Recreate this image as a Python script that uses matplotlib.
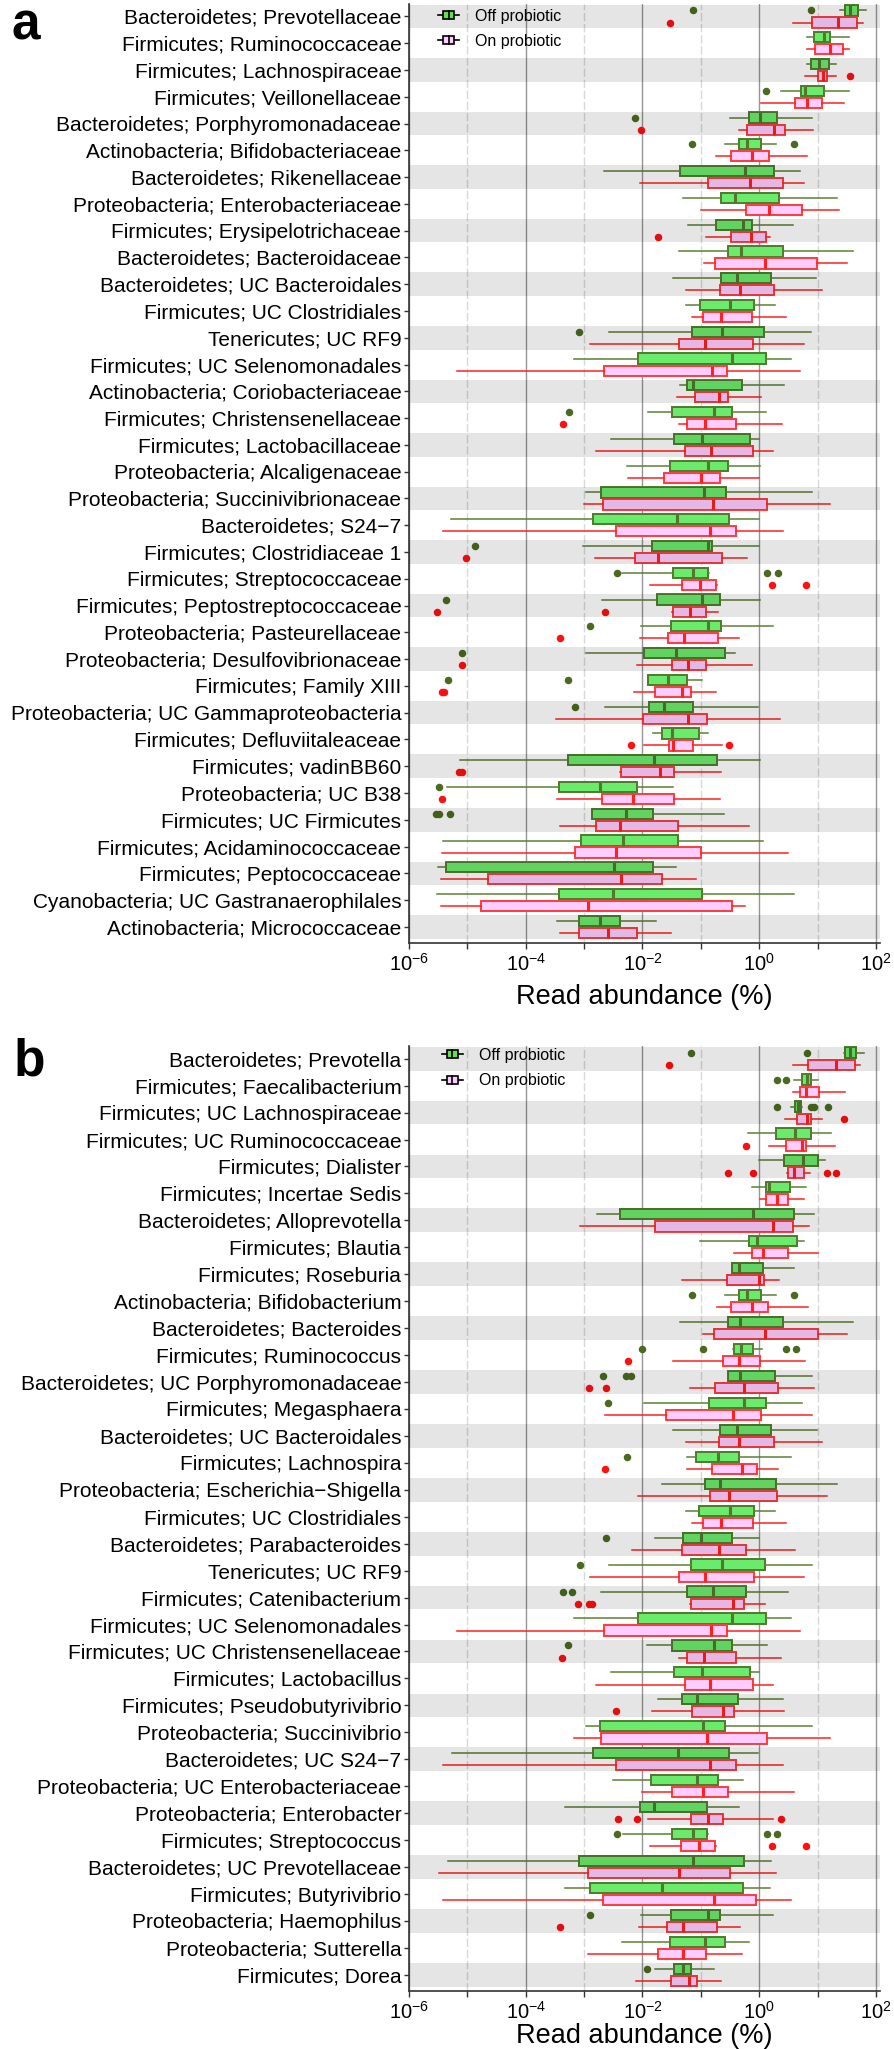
import matplotlib
matplotlib.use('Agg')
import matplotlib.pyplot as plt
import numpy as np
from matplotlib.patches import Rectangle, Patch
from matplotlib.lines import Line2D
from matplotlib.legend_handler import HandlerBase
from matplotlib.ticker import FixedLocator, FixedFormatter, NullFormatter

plt.rcParams['font.family'] = ['Liberation Sans', 'DejaVu Sans']

# box stats are log10(%): (whisker low, q1, median, q3, whisker high)
a_names = ['Bacteroidetes; Prevotellaceae', 'Firmicutes; Ruminococcaceae', 'Firmicutes; Lachnospiraceae',
           'Firmicutes; Veillonellaceae', 'Bacteroidetes; Porphyromonadaceae', 'Actinobacteria; Bifidobacteriaceae',
           'Bacteroidetes; Rikenellaceae', 'Proteobacteria; Enterobacteriaceae', 'Firmicutes; Erysipelotrichaceae',
           'Bacteroidetes; Bacteroidaceae', 'Bacteroidetes; UC Bacteroidales', 'Firmicutes; UC Clostridiales',
           'Tenericutes; UC RF9', 'Firmicutes; UC Selenomonadales', 'Actinobacteria; Coriobacteriaceae',
           'Firmicutes; Christensenellaceae', 'Firmicutes; Lactobacillaceae', 'Proteobacteria; Alcaligenaceae',
           'Proteobacteria; Succinivibrionaceae', 'Bacteroidetes; S24\u22127', 'Firmicutes; Clostridiaceae 1',
           'Firmicutes; Streptococcaceae', 'Firmicutes; Peptostreptococcaceae', 'Proteobacteria; Pasteurellaceae',
           'Proteobacteria; Desulfovibrionaceae', 'Firmicutes; Family XIII', 'Proteobacteria; UC Gammaproteobacteria',
           'Firmicutes; Defluviitaleaceae', 'Firmicutes; vadinBB60', 'Proteobacteria; UC B38',
           'Firmicutes; UC Firmicutes', 'Firmicutes; Acidaminococcaceae', 'Firmicutes; Peptococcaceae',
           'Cyanobacteria; UC Gastranaerophilales', 'Actinobacteria; Micrococcaceae']

a_off = [(1.38, 1.47, 1.55, 1.70, 1.83), (0.82, 0.93, 1.11, 1.21, 1.54), (0.81, 0.89, 1.03, 1.19, 1.31),
         (0.38, 0.72, 0.78, 1.11, 1.54), (-0.50, -0.17, 0.02, 0.31, 0.91), (-0.58, -0.35, -0.21, 0.03, 0.29),
         (-2.66, -1.35, -0.24, 0.25, 0.70), (-1.31, -0.66, -0.42, 0.34, 1.34), (-1.22, -0.74, -0.28, -0.13, 0.57),
         (-1.37, -0.54, -0.32, 0.40, 1.61), (-1.47, -0.66, -0.38, 0.20, 0.98), (-1.25, -1.01, -0.50, -0.09, 0.27),
         (-2.57, -1.16, -0.63, 0.09, 0.89), (-3.18, -2.07, -0.47, 0.11, 0.55), (-1.35, -1.23, -1.14, -0.30, 0.42),
         (-1.91, -1.50, -0.77, -0.46, 0.12), (-2.54, -1.46, -0.98, -0.15, -0.01), (-2.27, -1.53, -0.87, -0.53, 0.02),
         (-2.97, -2.71, -0.95, -0.57, 0.91), (-5.28, -2.85, -1.41, -0.51, -0.01), (-3.02, -1.83, -0.87, -0.81, -0.01),
         (-2.35, -1.48, -1.13, -0.87, -0.86), (-2.70, -1.75, -0.98, -0.67, 0.02), (-2.02, -1.51, -0.87, -0.66, 0.24),
         (-2.97, -1.97, -1.42, -0.59, -0.42), (-1.91, -1.91, -1.56, -1.24, -0.98), (-2.65, -1.88, -1.64, -1.13, -0.02),
         (-1.82, -1.67, -1.50, -1.03, -0.87), (-5.13, -3.28, -1.81, -0.73, 0.02), (-5.35, -3.43, -2.72, -2.10, -1.47),
         (-2.87, -2.87, -2.29, -1.82, -0.61), (-5.41, -3.05, -2.34, -1.40, 0.06), (-5.51, -5.37, -2.49, -1.82, -1.43),
         (-5.52, -3.43, -2.50, -0.98, 0.60), (-3.47, -3.09, -2.72, -2.38, -1.76)]
a_off_out = [[-1.14, 0.89], [], [], [0.11], [-2.13], [-1.15, 0.60], [], [], [], [], [], [], [-3.08], [], [],
             [-3.26], [], [], [], [], [-4.87], [-2.43, 0.14, 0.32], [-5.36], [-2.90], [-5.10], [-5.34, -3.27],
             [-3.16], [], [], [-5.48], [-5.54, -5.48, -5.30], [], [], [], []]

a_on = [(0.58, 0.91, 1.35, 1.68, 1.78), (0.82, 0.96, 1.21, 1.44, 1.54), (0.78, 1.00, 1.09, 1.16, 1.31),
        (0.03, 0.61, 0.82, 1.07, 1.46), (-0.35, -0.21, 0.26, 0.44, 0.92), (-0.74, -0.49, -0.13, 0.16, 0.82),
        (-2.05, -0.87, -0.15, 0.40, 0.76), (-0.99, -0.22, 0.16, 0.73, 1.37), (-0.91, -0.49, -0.14, 0.11, 0.19),
        (-0.95, -0.76, 0.10, 0.99, 1.50), (-1.25, -0.67, -0.33, 0.25, 1.07), (-1.16, -0.97, -0.65, -0.13, 0.46),
        (-2.90, -1.37, -0.93, -0.10, 0.76), (-5.17, -2.66, -0.81, -0.55, 0.69), (-1.41, -1.10, -0.69, -0.54, 0.03),
        (-1.37, -1.23, -0.93, -0.39, 0.39), (-2.79, -1.27, -0.83, -0.11, 0.23), (-2.24, -1.64, -1.00, -0.68, -0.01),
        (-3.01, -2.67, -0.79, 0.14, 1.21), (-5.42, -2.46, -0.84, -0.39, 0.40), (-2.81, -2.13, -1.74, -0.63, -0.21),
        (-1.87, -1.33, -1.01, -0.74, -0.73), (-1.50, -1.47, -1.19, -0.91, -0.70), (-2.05, -1.57, -1.29, -0.70, -0.34),
        (-2.09, -1.50, -1.22, -0.91, -0.13), (-2.15, -1.79, -1.33, -1.17, -0.74), (-3.49, -1.99, -1.22, -0.90, 0.36),
        (-1.97, -1.55, -1.47, -1.14, -0.63), (-2.38, -2.37, -1.70, -1.46, -0.65), (-3.47, -2.69, -2.17, -1.46, -0.67),
        (-3.41, -2.79, -2.39, -1.40, -0.18), (-5.43, -3.16, -2.46, -0.99, 0.49), (-5.45, -4.64, -2.37, -1.67, -1.09),
        (-5.45, -4.77, -2.93, -0.46, -0.25), (-3.41, -3.09, -2.59, -2.10, -1.51)]
a_on_out = [[-1.53], [], [1.55], [], [-2.03], [], [], [], [-1.73], [], [], [], [], [], [], [-3.37], [], [], [],
            [], [-5.03], [0.22, 0.80], [-5.52, -2.64], [-3.41], [-5.10], [-5.44, -5.40], [], [-2.19, -0.52],
            [-5.14, -5.09], [-5.44], [], [], [], [], []]

b_names = ['Bacteroidetes; Prevotella', 'Firmicutes; Faecalibacterium', 'Firmicutes; UC Lachnospiraceae',
           'Firmicutes; UC Ruminococcaceae', 'Firmicutes; Dialister', 'Firmicutes; Incertae Sedis',
           'Bacteroidetes; Alloprevotella', 'Firmicutes; Blautia', 'Firmicutes; Roseburia',
           'Actinobacteria; Bifidobacterium', 'Bacteroidetes; Bacteroides', 'Firmicutes; Ruminococcus',
           'Bacteroidetes; UC Porphyromonadaceae', 'Firmicutes; Megasphaera', 'Bacteroidetes; UC Bacteroidales',
           'Firmicutes; Lachnospira', 'Proteobacteria; Escherichia\u2212Shigella', 'Firmicutes; UC Clostridiales',
           'Bacteroidetes; Parabacteroides', 'Tenericutes; UC RF9', 'Firmicutes; Catenibacterium',
           'Firmicutes; UC Selenomonadales', 'Firmicutes; UC Christensenellaceae', 'Firmicutes; Lactobacillus',
           'Firmicutes; Pseudobutyrivibrio', 'Proteobacteria; Succinivibrio', 'Bacteroidetes; UC S24\u22127',
           'Proteobacteria; UC Enterobacteriaceae', 'Proteobacteria; Enterobacter', 'Firmicutes; Streptococcus',
           'Bacteroidetes; UC Prevotellaceae', 'Firmicutes; Butyrivibrio', 'Proteobacteria; Haemophilus',
           'Proteobacteria; Sutterella', 'Firmicutes; Dorea']

b_off = [(1.46, 1.47, 1.55, 1.65, 1.79), (0.60, 0.73, 0.81, 0.89, 1.01), (0.54, 0.61, 0.66, 0.71, 0.74),
         (-0.19, 0.29, 0.61, 0.89, 1.23), (0.00, 0.42, 0.75, 1.01, 1.13), (-0.13, 0.11, 0.17, 0.53, 0.80),
         (-2.78, -2.38, -0.10, 0.59, 0.93), (-1.01, -0.18, -0.04, 0.65, 0.77), (-0.47, -0.47, -0.35, 0.07, 0.60),
         (-0.58, -0.35, -0.21, 0.03, 0.29), (-1.36, -0.54, -0.33, 0.40, 1.61), (-0.45, -0.43, -0.31, -0.10, 0.05),
         (-0.53, -0.53, -0.33, 0.27, 0.91), (-1.97, -0.86, -0.26, 0.11, 0.73), (-1.47, -0.67, -0.38, 0.20, 0.99),
         (-1.23, -1.09, -0.71, -0.34, 0.55), (-1.67, -0.93, -0.67, 0.29, 1.33), (-1.26, -1.03, -0.50, -0.09, 0.27),
         (-1.79, -1.31, -0.99, -0.47, 0.00), (-2.57, -1.17, -0.63, 0.10, 0.90), (-2.71, -1.23, -0.80, -0.22, 0.49),
         (-3.18, -2.07, -0.47, 0.11, 0.55), (-1.93, -1.50, -0.77, -0.47, 0.13), (-2.54, -1.46, -0.98, -0.15, -0.01),
         (-1.73, -1.33, -1.07, -0.37, 0.40), (-2.96, -2.72, -0.96, -0.59, 0.91), (-5.27, -2.85, -1.40, -0.51, -0.02),
         (-2.50, -1.86, -1.07, -0.70, -0.27), (-3.33, -2.05, -1.80, -0.89, -0.34), (-2.34, -1.49, -1.14, -0.89, -0.87),
         (-5.33, -3.09, -1.13, -0.26, 0.21), (-3.33, -2.90, -1.66, -0.27, 0.19), (-2.03, -1.51, -0.87, -0.67, 0.23),
         (-2.35, -1.53, -0.93, -0.58, -0.17), (-1.78, -1.46, -1.31, -1.17, -0.78)]
b_off_out = [[-1.17, 0.81], [0.30, 0.46], [0.31, 0.89, 0.94, 1.18], [], [], [], [], [], [], [-1.15, 0.60], [],
             [-2.00, -0.96, 0.46, 0.63], [-2.67, -2.29, -2.20], [-2.59], [], [-2.27], [], [], [-2.63], [-3.07],
             [-3.37, -3.20], [], [-3.27], [], [], [], [], [], [], [-2.43, 0.14, 0.31], [], [], [-2.90], [], [-1.93]]

b_on = [(0.58, 0.83, 1.31, 1.64, 1.73), (0.57, 0.69, 0.80, 1.02, 1.47), (0.45, 0.64, 0.81, 0.89, 1.07),
        (0.16, 0.46, 0.74, 0.80, 1.30), (0.47, 0.50, 0.60, 0.76, 0.87), (0.01, 0.11, 0.30, 0.49, 0.76),
        (-3.07, -1.78, 0.23, 0.57, 0.86), (-0.44, -0.13, 0.06, 0.50, 1.01), (-1.33, -0.55, -0.01, 0.09, 0.34),
        (-0.73, -0.49, -0.13, 0.15, 0.83), (-0.96, -0.77, 0.10, 1.00, 1.50), (-1.47, -0.62, -0.34, 0.02, 0.79),
        (-1.18, -0.76, -0.26, 0.33, 0.93), (-2.65, -1.59, -0.45, 0.03, 0.91), (-1.26, -0.69, -0.34, 0.25, 1.07),
        (-1.23, -0.81, -0.30, -0.03, 0.33), (-2.07, -0.85, -0.51, 0.31, 1.16), (-1.16, -0.97, -0.65, -0.11, 0.46),
        (-2.18, -1.33, -0.69, -0.22, 0.62), (-2.90, -1.37, -0.93, -0.09, 0.77), (-1.18, -1.17, -0.45, -0.26, 0.10),
        (-5.17, -2.66, -0.82, -0.56, 0.70), (-1.37, -1.23, -0.95, -0.39, 0.38), (-2.79, -1.27, -0.85, -0.11, 0.23),
        (-1.83, -1.15, -0.62, -0.44, 0.43), (-3.18, -2.71, -0.89, 0.13, 1.22), (-5.41, -2.46, -0.85, -0.39, 0.40),
        (-2.00, -1.49, -0.97, -0.53, 0.60), (-1.90, -1.17, -0.87, -0.62, 0.23), (-1.87, -1.34, -1.03, -0.75, -0.74),
        (-5.49, -2.94, -1.38, -0.50, 0.29), (-5.41, -2.67, -0.78, -0.06, 0.55), (-2.06, -1.58, -1.30, -0.73, -0.33),
        (-2.93, -1.74, -1.31, -0.91, -0.30), (-2.11, -1.51, -1.21, -1.06, -0.66)]
b_on_out = [[-1.54], [], [1.45], [-0.23], [-0.53, -0.10, 1.16, 1.31], [], [], [], [], [], [], [-2.24],
            [-2.91, -2.63], [], [], [-2.65], [], [], [], [], [-3.10, -2.91, -2.87], [], [-3.38], [], [-2.46],
            [], [], [], [-2.42, -2.10, 0.38], [0.22, 0.80], [], [], [-3.42], [], []]

x_ticks = [1e-6, 1e-4, 1e-2, 1e0, 1e2]
x_tick_labels = [r'$\mathdefault{10^{-6}}$', r'$\mathdefault{10^{-4}}$', r'$\mathdefault{10^{-2}}$',
                 r'$\mathdefault{10^{0}}$', r'$\mathdefault{10^{2}}$']
x_minor = [1e-5, 1e-3, 1e-1, 1e1]
legend_labels = ['Off probiotic', 'On probiotic']

GREEN_FILL = '#6BEB6B'
GREEN_EDGE = '#4F7A2C'
GREEN_LINE = '#5B8032'
GREEN_DOT = '#4A6B1F'
PINK_FILL = '#FFCCFF'
PINK_EDGE = '#FF3B3B'
RED_LINE = '#FF2020'
RED_DOT = '#FF1010'


class MiniBox(HandlerBase):
    # little "-[|]-" glyph like the ggplot legend keys
    def create_artists(self, legend, orig_handle, xdescent, ydescent, width, height, fontsize, trans):
        x0, y0 = -xdescent, -ydescent
        cy = y0 + height / 2
        bh = height * 0.8
        whisk = Line2D([x0, x0 + width], [cy, cy], color='black', lw=1.2, transform=trans)
        box = Rectangle((x0 + 0.22 * width, cy - bh / 2), 0.56 * width, bh,
                        facecolor=orig_handle.get_facecolor(), edgecolor='black', lw=1.2, transform=trans)
        med = Line2D([x0 + width / 2] * 2, [cy - bh / 2, cy + bh / 2], color='black', lw=1.2, transform=trans)
        return [whisk, box, med]


def to_stats(vals, outs):
    return [dict(whislo=10 ** v[0], q1=10 ** v[1], med=10 ** v[2], q3=10 ** v[3], whishi=10 ** v[4],
                 fliers=10 ** np.array(o, dtype=float)) for v, o in zip(vals, outs)]


def draw_panel(ax, names, off, off_out, on, on_out, leg_xy, labelpad):
    n = len(names)
    rows = np.arange(1, n + 1)
    ax.bxp(to_stats(off, off_out), positions=rows - 0.225, widths=0.38, orientation='horizontal',
           patch_artist=True, showcaps=False, manage_ticks=False,
           boxprops=dict(facecolor=GREEN_FILL, edgecolor=GREEN_EDGE, linewidth=1.4),
           whiskerprops=dict(color=GREEN_LINE, linewidth=1.1),
           medianprops=dict(color=GREEN_EDGE, linewidth=2.2),
           flierprops=dict(marker='o', markerfacecolor=GREEN_DOT, markeredgecolor=GREEN_DOT, markersize=4.4))
    ax.bxp(to_stats(on, on_out), positions=rows + 0.225, widths=0.38, orientation='horizontal',
           patch_artist=True, showcaps=False, manage_ticks=False,
           boxprops=dict(facecolor=PINK_FILL, edgecolor=PINK_EDGE, linewidth=1.4),
           whiskerprops=dict(color=RED_LINE, linewidth=1.1),
           medianprops=dict(color=RED_LINE, linewidth=2.2),
           flierprops=dict(marker='o', markerfacecolor=RED_DOT, markeredgecolor=RED_DOT, markersize=4.4))

    # grey shading laid over every other row
    for r in rows[::2]:
        ax.axhspan(r - 0.44, r + 0.44, color='black', alpha=0.1, lw=0, zorder=5)

    ax.set_xscale('log')
    ax.set_xlim(1e-6, 1.15e2)
    ax.set_ylim(n + 0.6, 0.53)
    ax.set_yticks(rows)
    ax.set_yticklabels(names, fontsize=15)
    ax.xaxis.set_major_locator(FixedLocator(x_ticks))
    ax.xaxis.set_major_formatter(FixedFormatter(x_tick_labels))
    ax.xaxis.set_minor_locator(FixedLocator(x_minor))
    ax.xaxis.set_minor_formatter(NullFormatter())
    ax.tick_params(axis='x', which='both', labelsize=14.5, length=4, width=1, color='#333333', pad=3)
    ax.tick_params(axis='y', length=3.5, width=1, color='#333333', pad=2)
    ax.grid(which='major', axis='x', color='#959595', lw=1.0)
    ax.grid(which='minor', axis='x', color='#d9d9d9', lw=1.0, linestyle=(0, (6, 2)))
    ax.set_axisbelow(True)
    for s in ['top', 'right']:
        ax.spines[s].set_visible(False)
    for s in ['left', 'bottom']:
        ax.spines[s].set_color('#333333')
        ax.spines[s].set_linewidth(1.2)
    ax.set_xlabel('Read abundance (%)', fontsize=19.5, labelpad=labelpad)

    handles = [Patch(facecolor='#66DD55'), Patch(facecolor=PINK_FILL)]
    leg = ax.legend(handles, legend_labels, handler_map={Patch: MiniBox()}, loc='upper left',
                    bbox_to_anchor=leg_xy, frameon=False, fontsize=11.5, handlelength=1.3,
                    handleheight=0.6, handletextpad=1.0, labelspacing=0.65, borderpad=0, borderaxespad=0)
    leg.set_zorder(10)


fig = plt.figure(figsize=(8.94, 20.49), dpi=100)
ax_a = fig.add_axes([0.4575, 0.5398, 0.5263, 0.4583])
ax_b = fig.add_axes([0.4575, 0.0283, 0.5263, 0.4612])

draw_panel(ax_a, a_names, a_off, a_off_out, a_on, a_on_out, (0.062, 0.995), 7)
draw_panel(ax_b, b_names, b_off, b_off_out, b_on, b_on_out, (0.07, 0.998), 0.5)

fig.text(0.013, 1 - 40 / 2049, 'a', fontsize=37, fontweight='bold', va='baseline')
fig.text(0.015, 1 - 1075 / 2049, 'b', fontsize=37, fontweight='bold', va='baseline')

fig.savefig('out.png', dpi=100)
